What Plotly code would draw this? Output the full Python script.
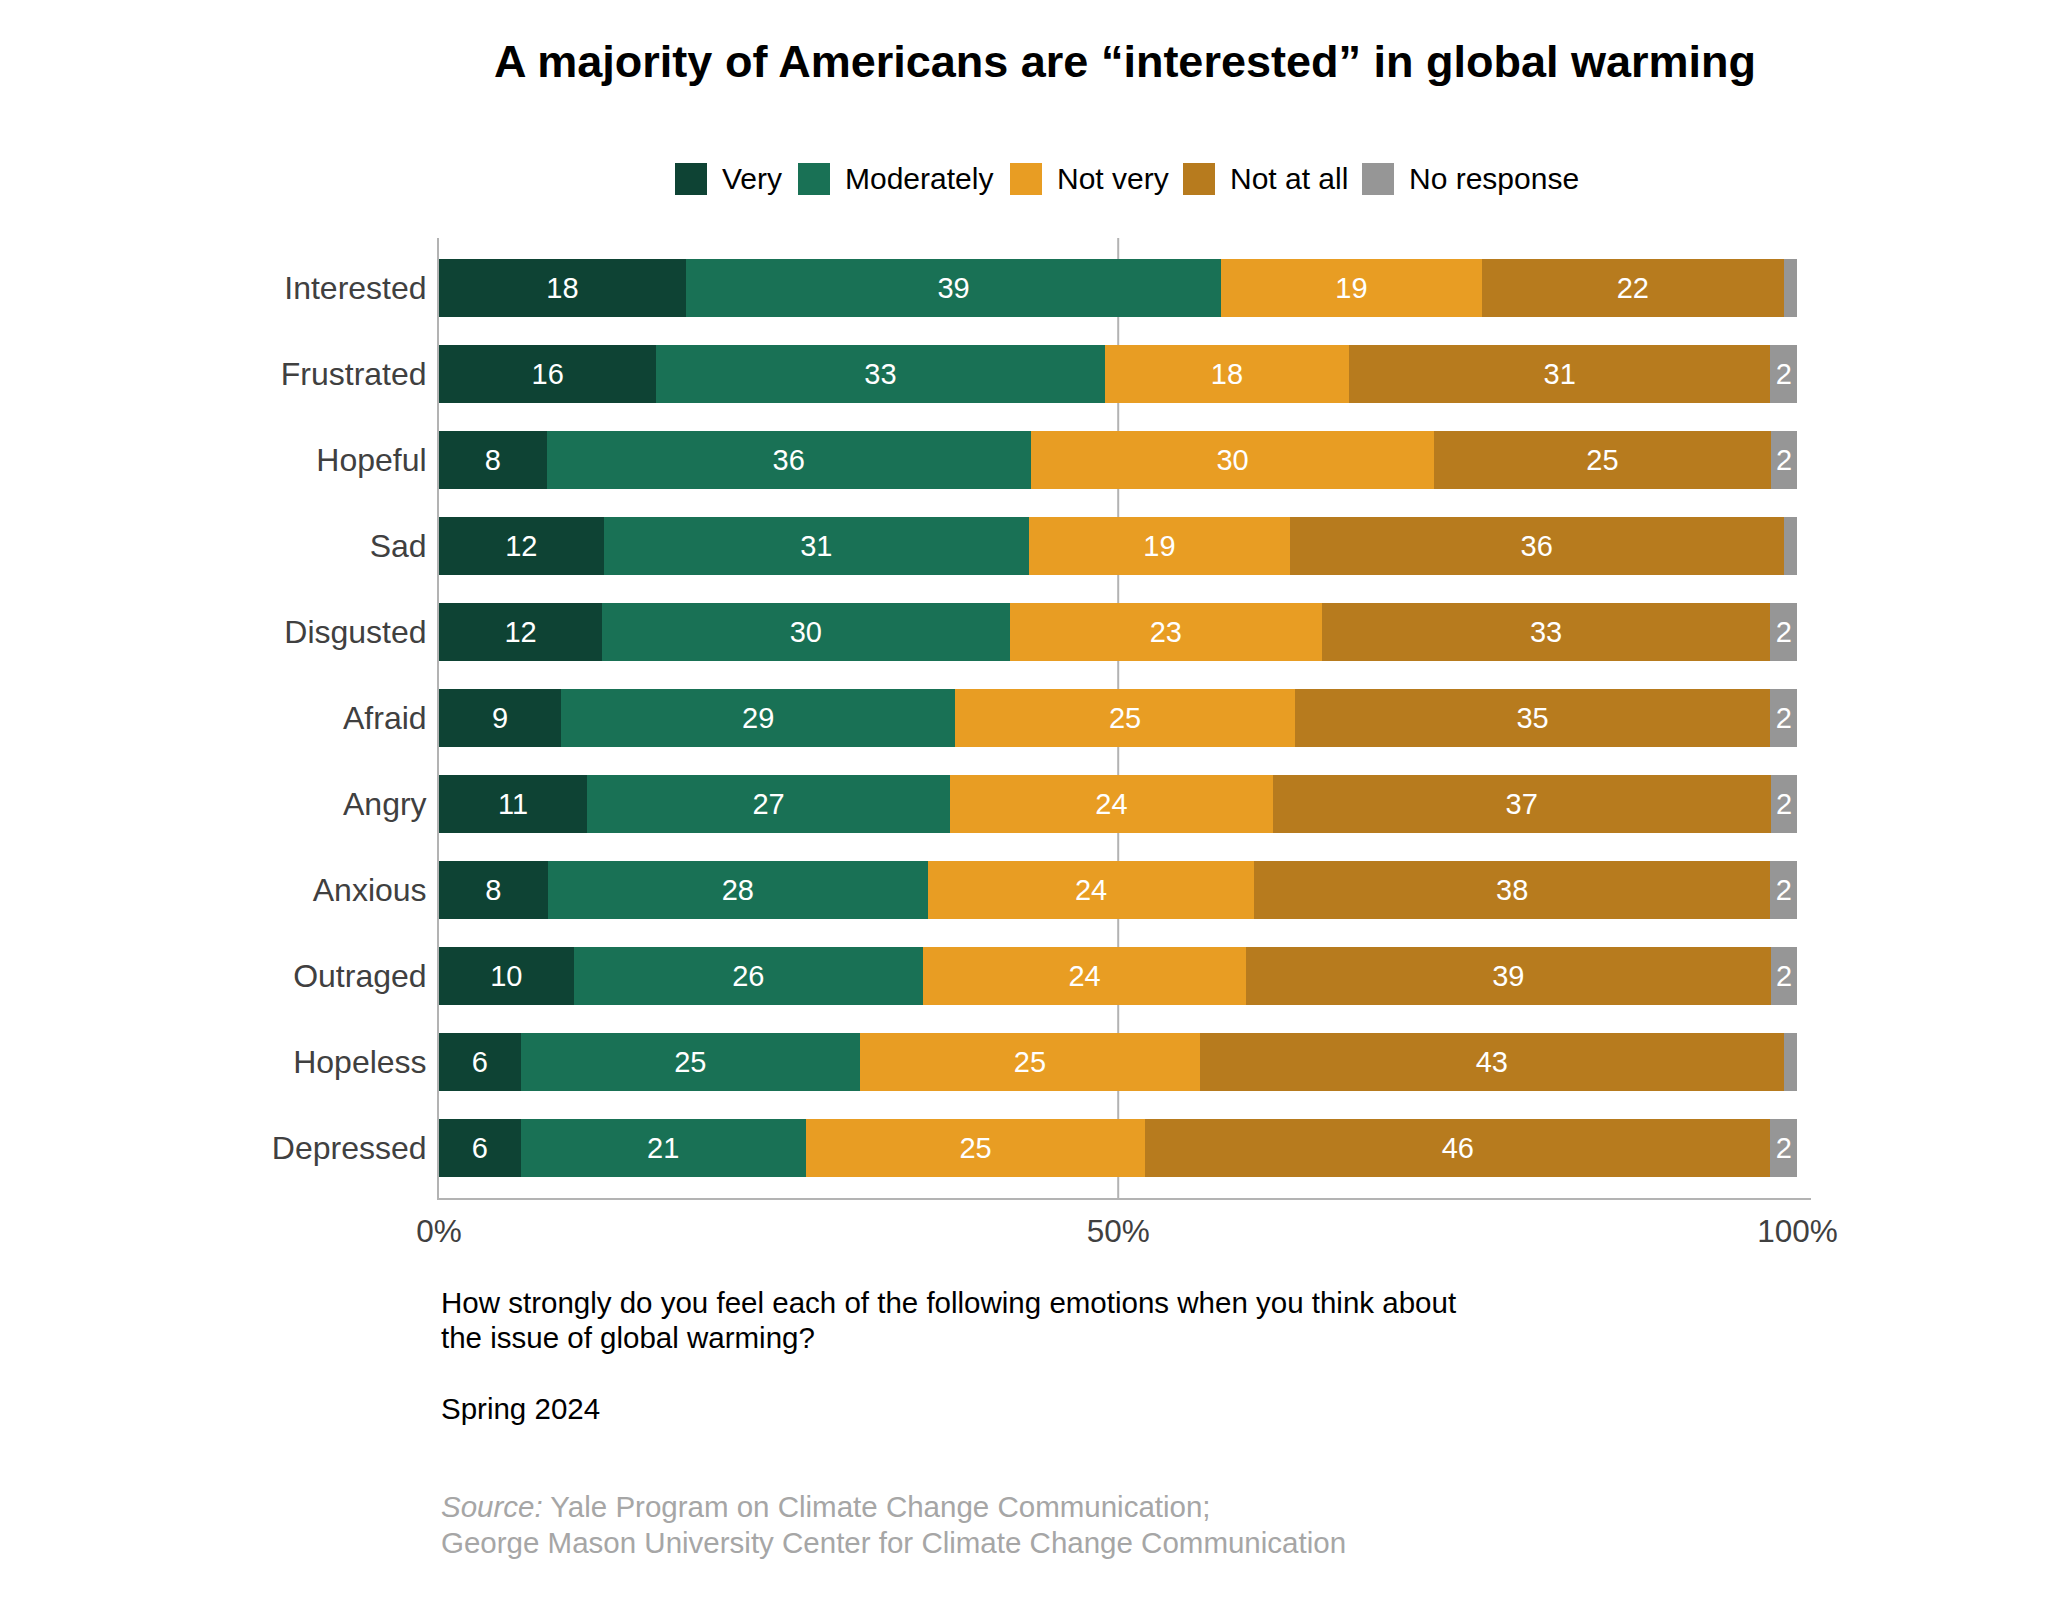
import plotly.graph_objects as go

categories = ["Interested", "Frustrated", "Hopeful", "Sad", "Disgusted", "Afraid",
              "Angry", "Anxious", "Outraged", "Hopeless", "Depressed"]
very = [18, 16, 8, 12, 12, 9, 11, 8, 10, 6, 6]
moderately = [39, 33, 36, 31, 30, 29, 27, 28, 26, 25, 21]
not_very = [19, 18, 30, 19, 23, 25, 24, 24, 24, 25, 25]
not_at_all = [22, 31, 25, 36, 33, 35, 37, 38, 39, 43, 46]
no_response = [1, 2, 2, 1, 2, 2, 2, 2, 2, 1, 2]

series_names = ["Very", "Moderately", "Not very", "Not at all", "No response"]
series_values = [very, moderately, not_very, not_at_all, no_response]
colors = ["#0E4334", "#197155", "#E89D23", "#B77B1E", "#969696"]

x_ticks = [0, 50, 100]
x_tick_labels = ["0%", "50%", "100%"]

FONT = "Liberation Sans, Arial, sans-serif"

# layout geometry (pixels)
W, H = 2048, 1603
OFF = 8                       # page body margin
PL, PR, PT, PB = 439, 1811, 238, 1198   # plot area in page pixels
PW, PH = PR - PL, PB - PT


def px_x(px):
    return (px - PL) / PW


def px_y(py):
    return (PB - py) / PH


fig = go.Figure()
for name, vals, col in zip(series_names, series_values, colors):
    if name == "No response":
        labels = [str(v) if v >= 2 else "" for v in vals]
    else:
        labels = [str(v) for v in vals]
    fig.add_trace(go.Bar(
        y=categories, x=vals, name=name, orientation="h",
        marker=dict(color=col, line=dict(width=0)),
        text=labels, textposition="inside", insidetextanchor="middle",
        textfont=dict(color="white", size=29, family=FONT),
        width=0.68, showlegend=False,
    ))

fig.add_shape(type="line", xref="x", yref="paper", x0=50, x1=50, y0=0, y1=1,
              line=dict(color="#b3b3b3", width=2), layer="below")

# custom legend (large square swatches)
legend_square_x = [675, 798, 1010, 1183, 1362]
sq = 32
for name, col, sx in zip(series_names, colors, legend_square_x):
    fig.add_shape(type="rect", xref="paper", yref="paper",
                  x0=px_x(sx), x1=px_x(sx + sq), y0=px_y(195), y1=px_y(163),
                  fillcolor=col, line=dict(width=0))
    fig.add_annotation(xref="paper", yref="paper", x=px_x(sx + sq + 13), y=px_y(179),
                       xanchor="left", yanchor="middle", showarrow=False, text=name,
                       font=dict(size=30, color="black", family=FONT))

fig.update_layout(
    width=W, height=H,
    barmode="stack", barnorm="percent",
    plot_bgcolor="white", paper_bgcolor="white",
    margin=dict(l=PL - OFF, r=W - PR + OFF, t=PT - OFF, b=H - PB + OFF),
    font=dict(family=FONT, color="#404040"),
    title=dict(text="<b>A majority of Americans are “interested” in global warming</b>",
               x=0.5, xref="paper", xanchor="center", y=1 - (61 - OFF) / H, yanchor="middle",
               font=dict(size=45, color="black", family=FONT)),
    showlegend=False,
)

fig.update_xaxes(range=[0, 101], tickvals=x_ticks, ticktext=x_tick_labels,
                 showgrid=False, zeroline=False, showline=True, linecolor="#b3b3b3",
                 linewidth=2, ticks="outside", ticklen=4, tickcolor="rgba(0,0,0,0)",
                 tickfont=dict(size=31.5, color="#404040", family=FONT))
fig.update_yaxes(categoryorder="array", categoryarray=categories,
                 range=[10.58, -0.58], showgrid=False, zeroline=False, showline=True,
                 linecolor="#b3b3b3", linewidth=2, ticks="outside", ticklen=4,
                 tickcolor="rgba(0,0,0,0)",
                 tickfont=dict(size=32, color="#404040", family=FONT))

text_lines = [
    ("How strongly do you feel each of the following emotions when you think about", 1302, "black"),
    ("the issue of global warming?", 1337, "black"),
    ("Spring 2024", 1408, "black"),
    ("<i>Source:</i> Yale Program on Climate Change Communication;", 1506, "#a6a6a6"),
    ("George Mason University Center for Climate Change Communication", 1542, "#a6a6a6"),
]
for txt, py, col in text_lines:
    fig.add_annotation(xref="paper", yref="paper", x=0, y=px_y(py),
                       xanchor="left", yanchor="middle", align="left", showarrow=False,
                       text=txt, font=dict(size=29.5, color=col, family=FONT))

fig.write_html("out.html")
